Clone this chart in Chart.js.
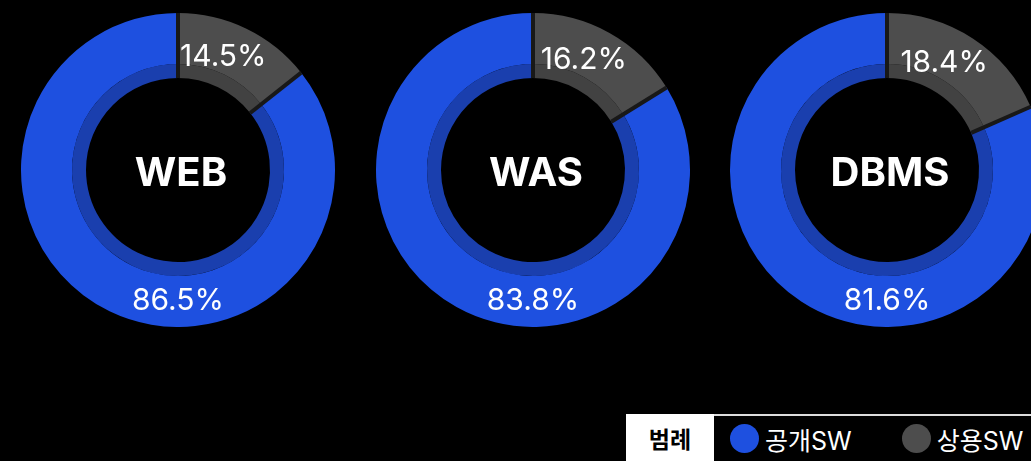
<!DOCTYPE html>
<html lang="ko">
<head>
<meta charset="utf-8">
<script src="https://cdn.jsdelivr.net/npm/chart.js@4.4.1/dist/chart.umd.min.js"></script>
<style>
  html, body { margin: 0; padding: 0; background: #000; width: 1031px; height: 461px; overflow: hidden; }
  body { position: relative; font-family: Inter, "Noto Sans CJK KR", sans-serif; }
  .donut { position: absolute; width: 314px; height: 314px; }
  #legend { position: absolute; left: 626px; top: 414px; width: 420px; height: 47px; display: flex; align-items: center; border-top: 2px solid #ddd; box-sizing: border-box; }
  #legend .title { background: #fff; color: #000; font-family: "Noto Sans CJK KR", sans-serif; font-weight: 700; font-size: 23px; width: 88px; height: 47px; margin-top: -2px; display: flex; align-items: center; justify-content: center; }
  #legend .item { display: flex; align-items: center; color: #fff; font-size: 25px; font-family: Inter, "Noto Sans CJK KR", sans-serif; }
  #legend .dot { width: 29px; height: 29px; border-radius: 50%; margin-right: 6px; }
</style>
</head>
<body>
<div id="wrap"></div>
<div id="legend"><div class="title">범례</div></div>
<script>
// 데이터
const categories = ['WEB', 'WAS', 'DBMS'];
const seriesNames = ['공개SW', '상용SW'];
const openSW = [86.5, 83.8, 81.6];
const commercialSW = [14.5, 16.2, 18.4];

// 색상
const mainColors = { open: '#1e50e0', commercial: '#4d4d4d' };
const innerColors = { open: '#1a3fae', commercial: '#424242' };

// 차트 중심 위치
const centersX = [178, 533, 887];
const centerY = 170;

// 조각 사이의 어두운 선
const gapPlugin = {
  id: 'gapLines',
  afterDatasetsDraw(chart) {
    const outer = chart.getDatasetMeta(0).data;
    const inner = chart.getDatasetMeta(chart.data.datasets.length - 1).data;
    const ctx = chart.ctx;
    ctx.save();
    ctx.strokeStyle = '#181818';
    ctx.lineWidth = 4;
    outer.forEach((arc, i) => {
      const a = arc.startAngle;
      const r0 = inner[i].innerRadius, r1 = arc.outerRadius;
      ctx.beginPath();
      ctx.moveTo(arc.x + Math.cos(a) * r0, arc.y + Math.sin(a) * r0);
      ctx.lineTo(arc.x + Math.cos(a) * r1, arc.y + Math.sin(a) * r1);
      ctx.stroke();
    });
    ctx.restore();
  }
};

// 퍼센트 라벨과 가운데 제목
const labelPlugin = {
  id: 'donutLabels',
  afterDraw(chart) {
    const ctx = chart.ctx;
    const outer = chart.getDatasetMeta(0).data;
    const inner = chart.getDatasetMeta(chart.data.datasets.length - 1).data;
    const values = chart.data.datasets[0].data;
    ctx.save();
    ctx.fillStyle = '#fff';
    ctx.textAlign = 'center';
    ctx.textBaseline = 'middle';
    ctx.font = '400 30px Inter, "Noto Sans", sans-serif';
    outer.forEach((arc, i) => {
      let a, r;
      if (i === 0) {
        a = arc.startAngle + (arc.endAngle - arc.startAngle) * 0.42;
        r = (inner[i].innerRadius + arc.outerRadius) / 2 - 2;
      } else {
        a = Math.PI / 2;
        r = (inner[i].innerRadius + arc.outerRadius) / 2 + 5;
      }
      ctx.fillText(values[i].toFixed(1) + '%', arc.x + Math.cos(a) * r, arc.y + Math.sin(a) * r + 1);
    });
    const c = outer[0];
    ctx.font = '700 40px Inter, "Noto Sans", sans-serif';
    ctx.fillText(chart.options.plugins.centerTitle, c.x + 3, c.y + 4);
    ctx.restore();
  }
};

const wrap = document.getElementById('wrap');
categories.forEach((name, k) => {
  const box = document.createElement('div');
  box.className = 'donut';
  box.style.left = (centersX[k] - 157) + 'px';
  box.style.top = (centerY - 157) + 'px';
  const cv = document.createElement('canvas');
  box.appendChild(cv);
  wrap.appendChild(box);

  const vals = [commercialSW[k], openSW[k]];
  new Chart(cv.getContext('2d'), {
    type: 'doughnut',
    data: {
      labels: [seriesNames[1], seriesNames[0]],
      datasets: [
        { data: vals, backgroundColor: [mainColors.commercial, mainColors.open], borderWidth: 0, weight: 51 },
        { data: vals, backgroundColor: [innerColors.commercial, innerColors.open], borderWidth: 0, weight: 14 }
      ]
    },
    options: {
      responsive: true,
      maintainAspectRatio: false,
      animation: false,
      cutout: '58.6%',
      layout: { padding: 0 },
      plugins: {
        legend: { display: false },
        tooltip: { enabled: false },
        centerTitle: name
      }
    },
    plugins: [gapPlugin, labelPlugin]
  });
});

// 범례
const legend = document.getElementById('legend');
[[seriesNames[0], mainColors.open], [seriesNames[1], mainColors.commercial]].forEach(([n, col], i) => {
  const it = document.createElement('div');
  it.className = 'item';
  it.style.marginLeft = i === 0 ? '16px' : '50px';
  it.innerHTML = '<span class="dot" style="background:' + col + '"></span>' + n;
  legend.appendChild(it);
});
</script>
</body>
</html>
